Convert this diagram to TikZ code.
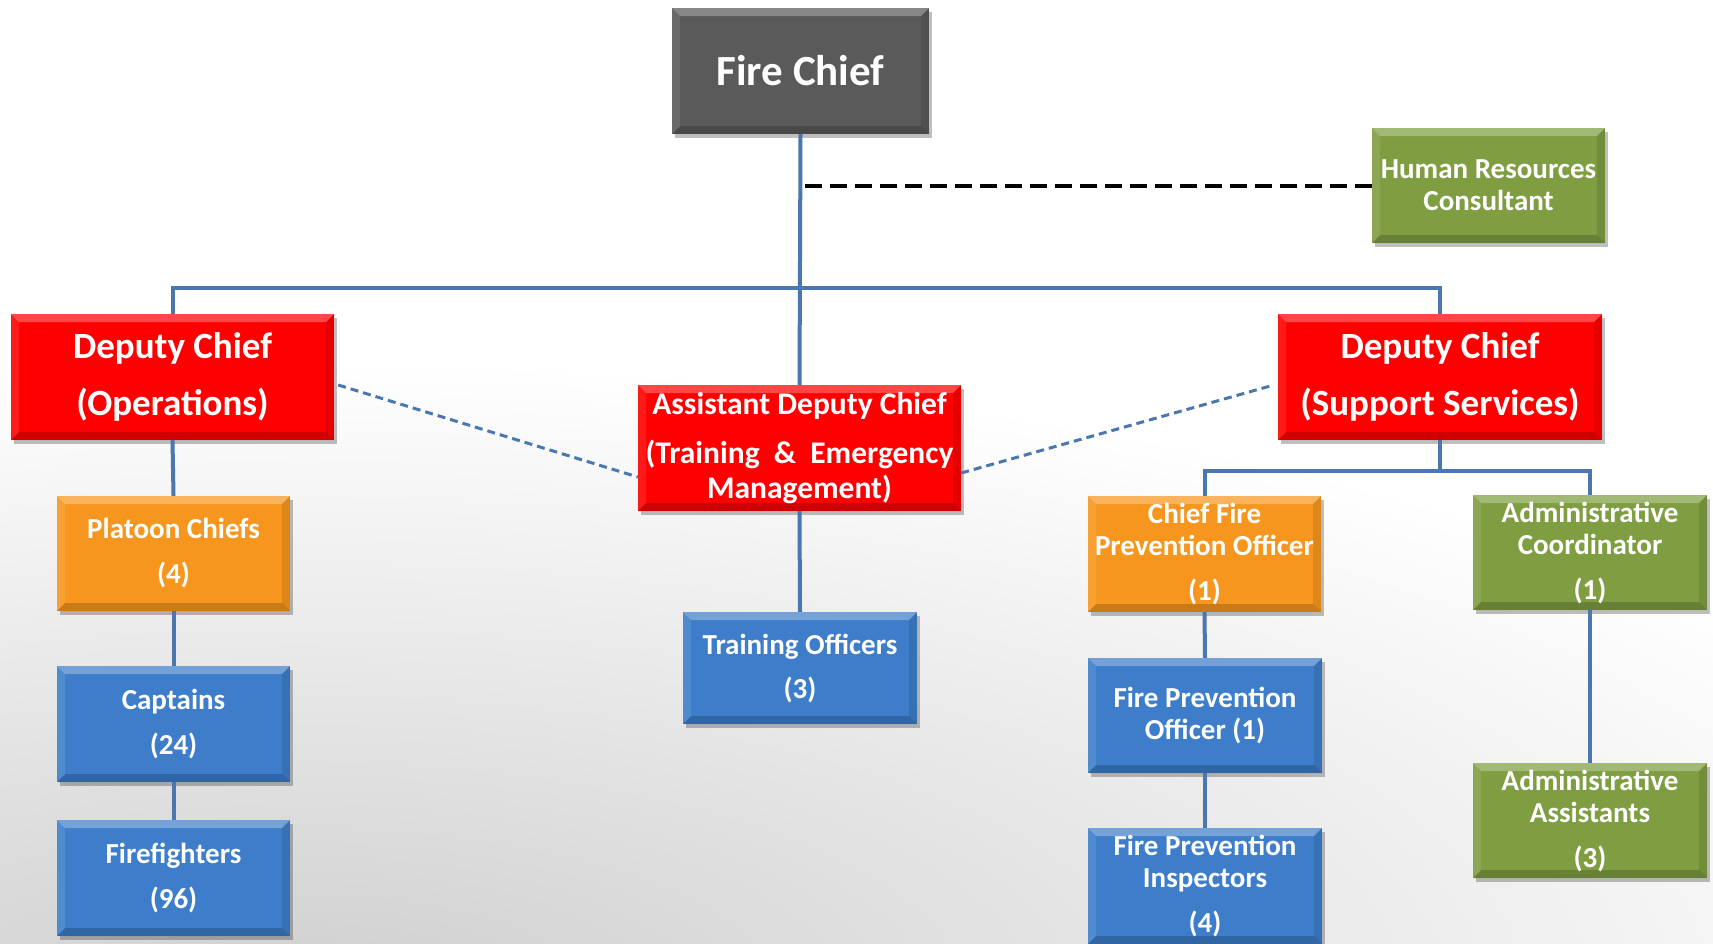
\documentclass[tikz,border=0pt]{standalone}
\usepackage{fontspec}
\setmainfont{Carlito}
\usetikzlibrary{shadows}
\definecolor{fcgrey}{RGB}{90,90,90}
\definecolor{boxred}{RGB}{255,0,0}
\definecolor{boxorange}{RGB}{247,150,30}
\definecolor{boxgreen}{RGB}{127,157,65}
\definecolor{boxblue}{RGB}{61,125,202}
\definecolor{connblue}{RGB}{74,119,176}
\tikzset{
  bevel/.style={path picture={
    \fill[white,opacity=0.28] (path picture bounding box.north west) -- (path picture bounding box.north east)
      -- ([xshift=-8pt,yshift=-8pt]path picture bounding box.north east) -- ([xshift=8pt,yshift=-8pt]path picture bounding box.north west) -- cycle;
    \fill[black,opacity=0.18] (path picture bounding box.south west) -- (path picture bounding box.south east)
      -- ([xshift=-8pt,yshift=8pt]path picture bounding box.south east) -- ([xshift=8pt,yshift=8pt]path picture bounding box.south west) -- cycle;
    \fill[white,opacity=0.10] (path picture bounding box.north west) -- (path picture bounding box.south west)
      -- ([xshift=8pt,yshift=8pt]path picture bounding box.south west) -- ([xshift=8pt,yshift=-8pt]path picture bounding box.north west) -- cycle;
    \fill[black,opacity=0.10] (path picture bounding box.north east) -- (path picture bounding box.south east)
      -- ([xshift=-8pt,yshift=8pt]path picture bounding box.south east) -- ([xshift=-8pt,yshift=-8pt]path picture bounding box.north east) -- cycle;
  }},
  orgbox/.style={rectangle, inner sep=0pt, align=center, text=white,
    drop shadow={shadow xshift=3pt, shadow yshift=-4pt, opacity=0.25, fill=black}, bevel},
  sz/.style 2 args={minimum width=#1, minimum height=#2},
  smallfont/.style={font=\bfseries\fontsize{29}{32}\selectfont},
  bigfont/.style={font=\bfseries\fontsize{37}{57}\selectfont},
  conn/.style={draw=connblue, line width=4pt},
  bluedash/.style={draw=connblue, line width=3pt, dash pattern=on 8pt off 5pt},
  blackdash/.style={draw=black, line width=4pt, dash pattern=on 17pt off 8pt},
}
\begin{document}
\begin{tikzpicture}[x=1pt,y=-1pt]
\useasboundingbox (0,0) rectangle (1713,943);
\clip (0,0) rectangle (1713,943);
\fill[white] (0,0) rectangle (1713,943);
\shade[inner color=gray!38, outer color=white] (300,1000) ellipse (1800 and 640);

% nodes
\node[orgbox, sz={257}{126}, fill=fcgrey, font=\bfseries\fontsize{43}{50}\selectfont] (fc) at (800.5,71) {Fire Chief};
\node[orgbox, sz={233}{115}, fill=boxgreen, smallfont] (hr) at (1488.5,185.5) {Human Resources\\Consultant};
\node[orgbox, sz={323}{126}, fill=boxred, bigfont] (dco) at (172.5,377) {Deputy Chief\\(Operations)};
\node[orgbox, sz={324}{126}, fill=boxred, bigfont] (dcs) at (1440,377) {Deputy Chief\\(Support Services)};
\node[orgbox, sz={323}{126}, fill=boxred, font=\bfseries\fontsize{31.5}{35}\selectfont] (adc) at (799.5,448) {Assistant Deputy Chief\\[14pt](Training \ \&\ \ Emergency\\Management)};
\node[orgbox, sz={233}{115}, fill=boxorange, smallfont] (pc) at (173.5,553.5) {Platoon Chiefs\\[13pt](4)};
\node[orgbox, sz={233}{116}, fill=boxblue, smallfont] (cap) at (173.5,724) {Captains\\[13pt](24)};
\node[orgbox, sz={233}{116}, fill=boxblue, smallfont] (ff) at (173.5,878) {Firefighters\\[13pt](96)};
\node[orgbox, sz={234}{112}, fill=boxblue, smallfont] (to) at (800,668) {Training Officers\\[12pt](3)};
\node[orgbox, sz={233}{116}, fill=boxorange, smallfont] (cfpo) at (1204.5,554) {Chief Fire\\Prevention Officer\\[13pt](1)};
\node[orgbox, sz={234}{115}, fill=boxgreen, smallfont] (ac) at (1590,552.5) {Administrative\\Coordinator\\[13pt](1)};
\node[orgbox, sz={234}{115}, fill=boxblue, smallfont] (fpo) at (1205,715.5) {Fire Prevention\\Officer (1)};
\node[orgbox, sz={234}{116}, fill=boxblue, smallfont] (fpi) at (1205,886) {Fire Prevention\\Inspectors\\[13pt](4)};
\node[orgbox, sz={234}{115}, fill=boxgreen, smallfont] (aa) at (1590,820.5) {Administrative\\Assistants\\[13pt](3)};

% connectors
\coordinate (bar) at (800,288);
\coordinate (sb) at (1440,471);
\draw[conn] (fc.south) -- (adc.north);
\draw[blackdash] ([xshift=4pt]fc.south |- hr.west) -- (hr.west);
\draw[conn] (dco.north) |- (bar) -| (dcs.north);
\draw[conn] (dco.south) -- (pc.north);
\draw[conn] (pc.south) -- (cap.north);
\draw[conn] (cap.south) -- (ff.north);
\draw[conn] (adc.south) -- (to.north);
\draw[conn] (dcs.south) -- (sb);
\draw[conn] (cfpo.north) |- (sb) -| (ac.north);
\draw[conn] (cfpo.south) -- (fpo.north);
\draw[conn] (fpo.south) -- (fpi.north);
\draw[conn] (ac.south) -- (aa.north);
\draw[bluedash] ([xshift=4pt,yshift=-8pt]dco.east) -- ([yshift=-29pt]adc.west);
\draw[bluedash] ([yshift=-25pt]adc.east) -- ([xshift=-4pt,yshift=-8pt]dcs.west);
\end{tikzpicture}
\end{document}
